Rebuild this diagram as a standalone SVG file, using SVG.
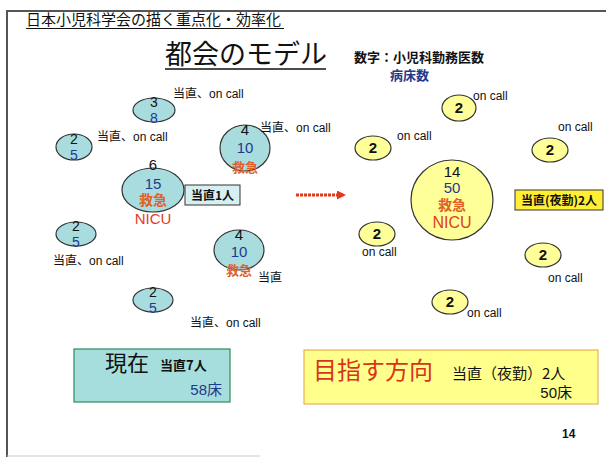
<svg xmlns="http://www.w3.org/2000/svg" width="606" height="457" viewBox="0 0 606 457">
<style>
text{font-family:"Liberation Sans","Noto Sans CJK JP",sans-serif}
.jp{font-family:"Noto Sans CJK JP",sans-serif}
.cy{fill:#a9dcde;stroke:#333;stroke-width:1.2}
.yl{fill:#ffff99;stroke:#333;stroke-width:1.2}
.num{font-size:15px;fill:#111;text-anchor:middle}
.sm{font-size:14px}
.bl{fill:#1f3a8c}
.og{fill:#e0602a}
.lbl{font-size:12px;fill:#111}
.c{text-anchor:middle}
</style>
<defs>
<marker id="ah" markerWidth="9" markerHeight="9" refX="6" refY="4.5" orient="auto" markerUnits="userSpaceOnUse"><path d="M0,0 L9,4.5 L0,9 Z" fill="#e03a1e"/></marker>
</defs>
<rect width="606" height="457" fill="#fff"/>
<path d="M606,11 H7 V457" fill="none" stroke="#555" stroke-width="2"/>
<path d="M7,456 H260" fill="none" stroke="#ccc" stroke-width="1"/>
<text x="26" y="25" font-size="15" class="jp" fill="#111">日本小児科学会の描く重点化・効率化</text>
<line x1="26" y1="28.5" x2="284" y2="28.5" stroke="#111" stroke-width="1"/>
<text x="165" y="64" font-size="27" class="jp" fill="#111">都会のモデル</text>
<line x1="165" y1="69" x2="326" y2="69" stroke="#111" stroke-width="1.5"/>
<text x="354" y="62" font-size="13" class="jp" fill="#111" font-weight="bold">数字：小児科勤務医数</text>
<text x="390" y="80" font-size="13" class="jp bl" font-weight="bold">病床数</text>
<g id="connectors">
<line x1="296" y1="195" x2="343" y2="195" stroke="#e03a1e" stroke-width="3" stroke-dasharray="3 1" marker-end="url(#ah)"/>
</g>
<g id="n1"><ellipse class="cy" cx="154" cy="110" rx="21" ry="12"/><text class="num sm" x="154" y="107">3</text><text class="num sm bl" x="154" y="123">8</text><text class="lbl" x="173" y="98">当直、on call</text></g>
<g id="n2"><ellipse class="cy" cx="74" cy="147" rx="18" ry="13"/><text class="num sm" x="74" y="144">2</text><text class="num sm bl" x="74" y="160">5</text><text class="lbl" x="97" y="141">当直、on call</text></g>
<g id="n3"><ellipse class="cy" cx="245" cy="148" rx="25" ry="23"/><text class="num" x="245" y="135">4</text><text class="num bl" x="245" y="153">10</text><text class="og c" x="245" y="172" font-size="13" font-weight="bold">救急</text><text class="lbl" x="260" y="132">当直、on call</text></g>
<g id="n4"><ellipse class="cy" cx="153" cy="190" rx="31" ry="22"/><text class="num" x="153" y="170" font-size="16">6</text><text class="num bl" x="153" y="189" font-size="16">15</text><text class="og c" x="153" y="205" font-size="14" font-weight="bold">救急</text><text class="c" x="153" y="224" font-size="15" fill="#e0401e">NICU</text>
<rect x="185" y="185" width="55" height="20" fill="#d6f0f2" stroke="#333" stroke-width="1"/><text class="lbl c jp" x="212.5" y="199.5" font-weight="bold">当直1人</text></g>
<g id="n5"><ellipse class="cy" cx="76" cy="234" rx="20" ry="12"/><text class="num sm" x="76" y="231">2</text><text class="num sm bl" x="76" y="247">5</text><text class="lbl" x="53" y="265">当直、on call</text></g>
<g id="n6"><ellipse class="cy" cx="239" cy="250" rx="25" ry="20"/><text class="num" x="239" y="240">4</text><text class="num bl" x="239" y="257">10</text><text class="og c" x="239" y="275" font-size="13" font-weight="bold">救急</text><text class="lbl" x="258" y="282">当直</text></g>
<g id="n7"><ellipse class="cy" cx="153" cy="300" rx="20" ry="12"/><text class="num sm" x="153" y="297">2</text><text class="num sm bl" x="153" y="313">5</text><text class="lbl" x="190" y="327">当直、on call</text></g>
<g id="r1"><ellipse class="yl" cx="459" cy="108" rx="17" ry="13"/><text class="num" x="459" y="113" font-weight="bold" font-size="14">2</text><text class="lbl" x="473" y="100">on call</text></g>
<g id="r2"><ellipse class="yl" cx="373" cy="148" rx="18" ry="12"/><text class="num" x="373" y="153" font-weight="bold" font-size="14">2</text><text class="lbl" x="397" y="140">on call</text></g>
<g id="r3"><ellipse class="yl" cx="550" cy="150" rx="18" ry="12"/><text class="num" x="550" y="155" font-weight="bold" font-size="14">2</text><text class="lbl" x="558" y="131">on call</text></g>
<g id="r4"><ellipse class="yl" cx="452" cy="200" rx="41" ry="40"/><text class="num" x="452" y="177" font-size="16">14</text><text class="num bl" x="452" y="193" font-size="16">50</text><text class="og c" x="452" y="210" font-size="14" font-weight="bold">救急</text><text class="c" x="452" y="228" font-size="16" fill="#e0401e">NICU</text>
<rect x="515" y="190" width="88" height="20" fill="#ffee33" stroke="#333" stroke-width="1"/><text class="lbl c jp" x="559" y="204.5" font-weight="bold">当直(夜勤)2人</text></g>
<g id="r5"><ellipse class="yl" cx="377" cy="234" rx="18" ry="12"/><text class="num" x="377" y="239" font-weight="bold" font-size="14">2</text><text class="lbl" x="362" y="256">on call</text></g>
<g id="r6"><ellipse class="yl" cx="543" cy="255" rx="18" ry="12"/><text class="num" x="543" y="260" font-weight="bold" font-size="14">2</text><text class="lbl" x="548" y="282">on call</text></g>
<g id="r7"><ellipse class="yl" cx="450" cy="302" rx="18" ry="12"/><text class="num" x="450" y="307" font-weight="bold" font-size="14">2</text><text class="lbl" x="467" y="317">on call</text></g>
<g id="now"><rect x="74" y="349" width="156" height="53" fill="#a6dede" stroke="#2e8b57" stroke-width="1.2"/><text x="105" y="371" font-size="22" class="jp" fill="#111">現在</text><text x="160" y="370" font-size="13" class="jp" fill="#111" font-weight="bold">当直7人</text><text x="222" y="395" font-size="15" class="bl" text-anchor="end">58床</text></g>
<g id="goal"><rect x="304" y="350" width="294" height="54" fill="#ffff8c" stroke="#e8a040" stroke-width="1"/><text x="313" y="379" font-size="24" class="jp" fill="#d9341a">目指す方向</text><text x="452" y="379" font-size="15" class="jp" fill="#111">当直（夜勤）2人</text><text x="572" y="398" font-size="15" fill="#111" text-anchor="end">50床</text></g>
<text x="562" y="438" font-size="12" font-weight="bold" fill="#111">14</text>
</svg>
